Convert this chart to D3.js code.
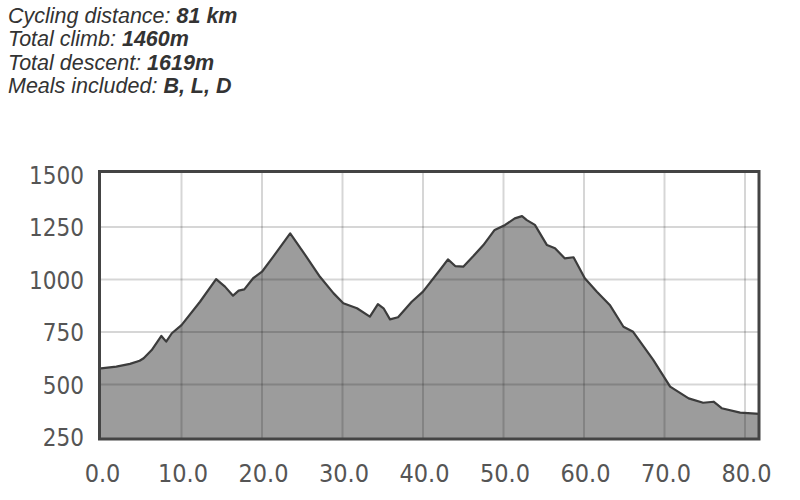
<!DOCTYPE html>
<html><head><meta charset="utf-8">
<script src="https://cdn.jsdelivr.net/npm/d3@7/dist/d3.min.js"></script>
<style>body{margin:0;background:#fff;}svg{display:block;}</style>
</head><body>
<script>
const infoLabels = ["Cycling distance: ", "Total climb: ", "Total descent: ", "Meals included: "];
const infoValues = ["81 km", "1460m", "1619m", "B, L, D"];
const xTicks = [0, 10, 20, 30, 40, 50, 60, 70, 80];
const yTicks = [250, 500, 750, 1000, 1250, 1500];
const distanceKm = [0, 1.9, 3.6, 4.8, 5.3, 6.3, 7.5, 8.1, 8.8, 10.0, 12.3, 14.3, 15.4, 16.4, 17.1, 17.8, 18.9, 20.0, 21.4, 23.5, 25.1, 27.2, 28.9, 30.1, 31.8, 33.4, 34.4, 35.1, 35.9, 36.9, 38.6, 40.0, 42.1, 43.1, 44.0, 45.0, 46.2, 47.5, 48.9, 50.2, 51.4, 52.3, 52.9, 53.9, 55.4, 56.4, 57.6, 58.7, 60.1, 61.6, 63.2, 64.9, 66.1, 68.6, 70.7, 73.0, 74.8, 76.1, 77.1, 79.4, 81.8];
const elevation = [577, 585, 598, 613, 625, 664, 731, 704, 744, 783, 894, 1002, 966, 923, 947, 953, 1006, 1037, 1109, 1220, 1132, 1013, 934, 887, 863, 823, 883, 863, 810, 820, 894, 942, 1045, 1096, 1064, 1061, 1109, 1164, 1236, 1260, 1291, 1302, 1283, 1260, 1164, 1149, 1101, 1106, 1006, 942, 879, 775, 751, 617, 490, 434, 413, 418, 387, 366, 360];

const W = 800, H = 500;
const svg = d3.select("body").append("svg").attr("width", W).attr("height", H);

// info text
const info = svg.append("g").attr("font-family", "Liberation Sans, Arial, sans-serif")
  .attr("font-size", 21.5).attr("font-style", "italic").attr("fill", "#333");
infoLabels.forEach((lab, i) => {
  const t = info.append("text").attr("x", 8).attr("y", 23 + i * 23.4);
  t.append("tspan").text(lab);
  t.append("tspan").attr("font-weight", "bold").text(infoValues[i]);
});

const x = d3.scaleLinear().domain([0, 80]).range([101, 745]);
const y = d3.scaleLinear().domain([250, 1500]).range([437, 174.5]);
const xMax = x.invert(759);
const yMin = y.invert(439), yMax = y.invert(172);

// area
const data = distanceKm.map((d, i) => ({ d, e: elevation[i] }));
svg.append("path").datum(data)
  .attr("d", d3.area().x(p => x(p.d)).y0(y(yMin)).y1(p => y(p.e)))
  .attr("fill", "#9c9c9c");

// grid
const grid = svg.append("g").attr("stroke", "rgba(0,0,0,0.16)").attr("stroke-width", 2);
xTicks.filter(t => t > 0).forEach(t => grid.append("line")
  .attr("x1", x(t)).attr("x2", x(t)).attr("y1", y(yMax)).attr("y2", y(yMin)));
yTicks.filter(t => t > 250 && t < 1500).forEach(t => grid.append("line")
  .attr("x1", x(0)).attr("x2", x(xMax)).attr("y1", y(t)).attr("y2", y(t)));

// profile line
svg.append("path").datum(data)
  .attr("d", d3.line().x(p => x(p.d)).y(p => y(p.e)))
  .attr("fill", "none").attr("stroke", "#3c3c3c").attr("stroke-width", 2.2)
  .attr("stroke-linejoin", "round");

// frame
svg.append("rect").attr("x", x(0) - 1.5).attr("y", y(yMax) - 0.5)
  .attr("width", x(xMax) - x(0) + 1.5).attr("height", y(yMin) - y(yMax) + 0.5)
  .attr("fill", "none").attr("stroke", "#444").attr("stroke-width", 3);

// y axis labels
const yAxis = svg.append("g").attr("transform", "translate(84,0)")
  .call(d3.axisLeft(y).tickValues(yTicks).tickSize(0).tickPadding(0).tickFormat(d3.format("d")));
yAxis.select(".domain").remove();
yAxis.selectAll("text").attr("font-family", "DejaVu Sans Condensed, DejaVu Sans, sans-serif")
  .attr("font-size", 24).attr("fill", "#555").attr("dy", "0.36em");

// x axis labels
const xAxis = svg.append("g").attr("transform", "translate(1,0)")
  .call(d3.axisBottom(x).tickValues(xTicks).tickSize(0).tickPadding(0).tickFormat(d3.format(".1f")));
xAxis.select(".domain").remove();
xAxis.selectAll("text").attr("font-family", "DejaVu Sans Condensed, DejaVu Sans, sans-serif")
  .attr("font-size", 25).attr("fill", "#555").attr("y", 482).attr("dy", null);
</script>
</body></html>
